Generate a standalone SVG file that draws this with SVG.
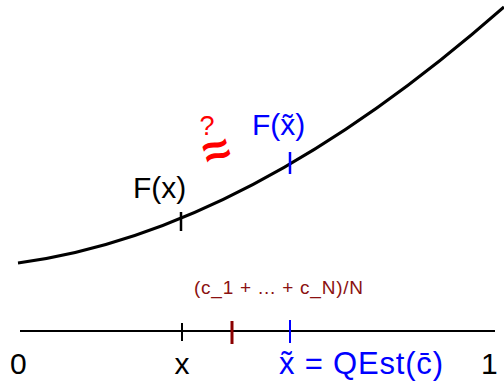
<svg xmlns="http://www.w3.org/2000/svg" width="504" height="382" viewBox="0 0 504 382">
<style>
text { font-family: "Liberation Sans", Arial, sans-serif; }
.lbl { font-size: 30px; }
.blk { fill: #000; }
.blue { fill: #0000FF; }
.red { fill: #FF0000; }
.dred { fill: #8B1111; }
.line { fill: none; stroke: #000; }
</style>
<rect width="504" height="382" fill="#fff"/>
<g id="curve">
<path class="line" stroke-width="3" d="M18,263 Q247,233 504,7"/>
</g>
<g id="axis">
<line class="line" stroke-width="2" x1="20" y1="331" x2="495" y2="331"/>
</g>
<g id="connectors">
<line stroke="#000" stroke-width="2.5" x1="181" y1="212" x2="181" y2="231"/>
<line stroke="#0000FF" stroke-width="2.5" x1="290" y1="152" x2="290" y2="174"/>
<line stroke="#000" stroke-width="2" x1="182" y1="323" x2="182" y2="341"/>
<line stroke="#8B0000" stroke-width="3" x1="232" y1="321" x2="232" y2="344"/>
<line stroke="#0000FF" stroke-width="2" x1="290" y1="320" x2="290" y2="343"/>
</g>
<g id="labels">
<text class="lbl blk" x="133" y="198">F(x)</text>
<text class="lbl blue" x="252" y="135">F(x̃)</text>
<text class="red" x="207" y="135" font-size="27" text-anchor="middle">?</text>
<text class="red" x="217" y="166" font-size="48" font-weight="bold" text-anchor="middle" transform="rotate(-18 217 152)">≈</text>
<text class="dred" x="194" y="294" font-size="19" textLength="169" lengthAdjust="spacing">(c_1 + ... + c_N)/N</text>
<text class="lbl blk" x="10" y="374">0</text>
<text class="lbl blk" x="182" y="374" text-anchor="middle">x</text>
<text class="blue" x="279" y="374" font-size="31" textLength="164" lengthAdjust="spacing">x̃ = QEst(c̄)</text>
<text class="lbl blk" x="481" y="374">1</text>
</g>
</svg>
